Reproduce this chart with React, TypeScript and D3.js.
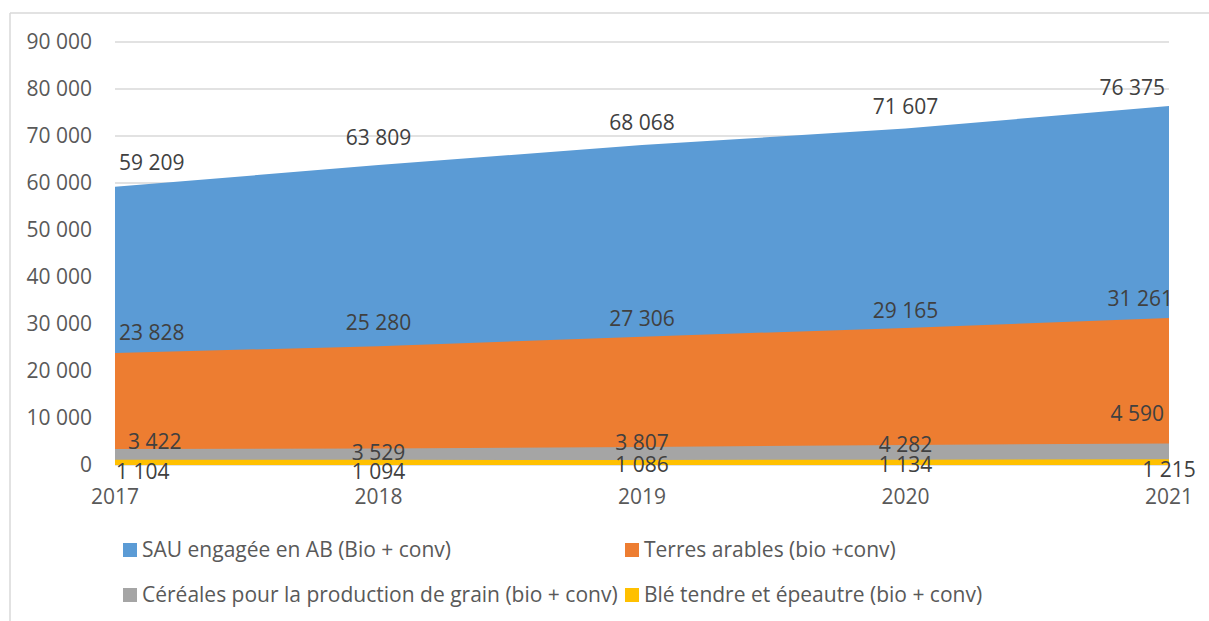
import React from "react";
import * as d3 from "d3";

const years = ["2017", "2018", "2019", "2020", "2021"];
const sau = [59209, 63809, 68068, 71607, 76375];
const terres = [23828, 25280, 27306, 29165, 31261];
const cereales = [3422, 3529, 3807, 4282, 4590];
const ble = [1104, 1094, 1086, 1134, 1215];
const yTicks = [0, 10000, 20000, 30000, 40000, 50000, 60000, 70000, 80000, 90000];
const seriesNames = [
  "SAU engagée en AB (Bio + conv)",
  "Terres arables (bio +conv)",
  "Céréales pour la production de grain (bio + conv)",
  "Blé tendre et épeautre (bio + conv)",
];
const seriesColors = ["#5B9BD5", "#ED7D31", "#A5A5A5", "#FFC000"];
const seriesValues = [sau, terres, cereales, ble];

// label placement style (pixel offsets from the point, Excel-like)
const labelDy = [
  [-24, -27, -22, -22, -18],
  [-20, -24, -18, -17, -19],
  [-7, 4, -4, 0, -30],
  [12, 12, 5, 5, 10],
];
const labelMinX = [119, 119, 128, 116];
const labelMaxX = [1165, 1173, 1164, 1209];

const FONT = "'Open Sans', sans-serif";
const FS = 21;

const fmt = (v: number) => d3.format(",")(v).replace(/,/g, " ");

function textWidth(s: string): number {
  if (typeof document === "undefined") return s.length * 11;
  const c = (textWidth as any).c || ((textWidth as any).c = document.createElement("canvas"));
  const ctx = c.getContext("2d");
  ctx.font = `${FS}px 'Open Sans'`;
  return ctx.measureText(s).width;
}

export default function App() {
  const W = 1209, H = 621;
  const left = 115, right = 1169, top = 42, bottom = 465;
  const x = d3.scalePoint<string>().domain(years).range([left, right]);
  const y = d3.scaleLinear().domain([0, 90000]).range([bottom, top]);
  const area = (vals: number[]) =>
    d3.area<number>()
      .x((_, i) => x(years[i]) as number)
      .y0(y(0))
      .y1((d) => y(d))(vals) as string;

  return (
    <svg width={W} height={H} style={{ position: "absolute", left: 0, top: 0, background: "#fff" }}
      fontFamily={FONT}>
      <rect x={0} y={0} width={W} height={H} fill="#fff" />
      <line x1={10} y1={13} x2={W} y2={13} stroke="#d9d9d9" strokeWidth={1.5} />
      <line x1={10} y1={13} x2={10} y2={H} stroke="#d9d9d9" strokeWidth={1.5} />
      {yTicks.map((t) => (
        <g key={t}>
          <line x1={left} x2={right} y1={y(t)} y2={y(t)} stroke="#d9d9d9" strokeWidth={1.5} />
          <text x={92} y={y(t)} dy="0.35em" textAnchor="end" fontSize={FS} fill="#595959">{fmt(t)}</text>
        </g>
      ))}
      {seriesValues.map((vals, si) => (
        <path key={si} d={area(vals)} fill={seriesColors[si]} />
      ))}
      {years.map((yr) => (
        <text key={yr} x={x(yr)} y={497} dy="0.35em" textAnchor="middle" fontSize={FS} fill="#595959">{yr}</text>
      ))}
      {seriesValues.map((vals, si) =>
        vals.map((v, i) => {
          const s = fmt(v);
          const w = textWidth(s);
          const cx = x(years[i]) as number;
          let lx = cx - w / 2;
          if (lx < labelMinX[si]) lx = labelMinX[si];
          if (lx + w > labelMaxX[si]) lx = labelMaxX[si] - w;
          return (
            <text key={`${si}-${i}`} x={lx} y={y(v) + labelDy[si][i]} dy="0.35em" fontSize={FS} fill="#404040">{s}</text>
          );
        })
      )}
      {seriesNames.map((n, i) => {
        const lx = i % 2 === 0 ? 123 : 625;
        const ly = i < 2 ? 550 : 595;
        return (
          <g key={n}>
            <rect x={lx} y={ly - 7} width={14} height={14} fill={seriesColors[i]} />
            <text x={lx + 19} y={ly} dy="0.35em" fontSize={FS} fill="#595959">{n}</text>
          </g>
        );
      })}
    </svg>
  );
}
